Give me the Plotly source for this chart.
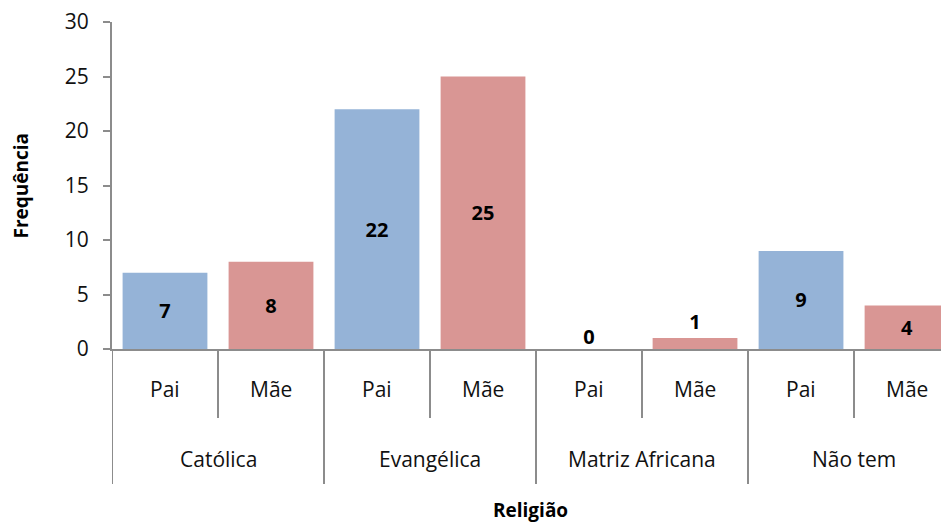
import plotly.graph_objects as go

# dados
religioes = ["Católica", "Evangélica", "Matriz Africana", "Não tem"]
grupos = ["Pai", "Mãe"]
pai = [7, 22, 0, 9]
mae = [8, 25, 1, 4]
y_ticks = [0, 5, 10, 15, 20, 25, 30]

COR_PAI = "#95B3D7"
COR_MAE = "#D99694"
COR_EIXO = "#8C8C8C"
FONTE = "Open Sans"

# intercala Pai/Mãe em posições 0..7
x_pos, valores, cores = [], [], []
for i, _ in enumerate(religioes):
    x_pos += [2 * i, 2 * i + 1]
    valores += [pai[i], mae[i]]
    cores += [COR_PAI, COR_MAE]

fig = go.Figure()
fig.add_trace(go.Bar(
    x=x_pos,
    y=valores,
    width=0.8,
    marker=dict(color=cores, line=dict(width=0)),
    text=[str(v) for v in valores],
    textposition="auto",
    insidetextanchor="middle",
    constraintext="none",
    textfont=dict(family=FONTE, size=20, color="#000000", weight="bold"),
    cliponaxis=False,
    showlegend=False,
))

# barras com valor zero não mostram texto: rótulo à parte
zeros = [(xp, v) for xp, v in zip(x_pos, valores) if v == 0]
fig.add_trace(go.Scatter(
    x=[z[0] for z in zeros],
    y=[z[1] for z in zeros],
    mode="text",
    text=[str(z[1]) for z in zeros],
    textposition="top center",
    textfont=dict(family=FONTE, size=20, color="#000000", weight="bold"),
    cliponaxis=False,
    showlegend=False,
    hoverinfo="skip",
))

H = 520
plot_h = 327
B = H - 14 - plot_h

annotations = []
shapes = []
# rótulos Pai/Mãe
for k, xp in enumerate(x_pos):
    annotations.append(dict(
        x=xp, y=0, xref="x", yref="paper", yanchor="middle",
        yshift=-40, showarrow=False, text=grupos[k % 2],
        font=dict(family=FONTE, size=21, color="#111111"),
    ))
# rótulos das religiões
for i, r in enumerate(religioes):
    annotations.append(dict(
        x=2 * i + 0.5, y=0, xref="x", yref="paper", yanchor="middle",
        yshift=-110, showarrow=False, text=r,
        font=dict(family=FONTE, size=21, color="#111111"),
    ))
# divisórias
for i in range(len(religioes)):
    shapes.append(dict(
        type="line", xref="x", yref="paper",
        x0=2 * i + 0.5, x1=2 * i + 0.5, y0=0, y1=-69 / plot_h,
        line=dict(color=COR_EIXO, width=2),
    ))
    shapes.append(dict(
        type="line", xref="x", yref="paper",
        x0=2 * i - 0.5, x1=2 * i - 0.5, y0=0, y1=-135 / plot_h,
        line=dict(color=COR_EIXO, width=2),
    ))

annotations.append(dict(
    x=0.5, y=0, xref="paper", yref="paper", yanchor="middle",
    yshift=-161, showarrow=False, text="<b>Religião</b>",
    font=dict(family=FONTE, size=19, color="#000000"),
))
annotations.append(dict(
    x=0, y=0.5, xref="paper", yref="paper", xanchor="center",
    xshift=-92, textangle=-90, showarrow=False, text="<b>Frequência</b>",
    font=dict(family=FONTE, size=19, color="#000000"),
))

fig.update_layout(
    width=941,
    height=H,
    margin=dict(t=14, b=B, l=104, r=0),
    paper_bgcolor="white",
    plot_bgcolor="white",
    font=dict(family=FONTE, color="#111111"),
    annotations=annotations,
    shapes=shapes,
    bargap=0.2,
)
fig.update_xaxes(
    range=[-0.5, 7.396],
    showticklabels=False,
    ticks="",
    showgrid=False,
    zeroline=False,
    showline=True,
    linecolor=COR_EIXO,
    linewidth=2,
)
fig.update_yaxes(
    range=[0, 30],
    tickvals=y_ticks,
    ticks="outside",
    ticklen=7,
    tickcolor=COR_EIXO,
    tickwidth=2,
    ticklabelstandoff=10,
    ticklabeloverflow="allow",
    tickfont=dict(family=FONTE, size=21, color="#111111"),
    showgrid=False,
    zeroline=False,
    showline=True,
    linecolor=COR_EIXO,
    linewidth=2,
)

fig.write_html("out.html")
